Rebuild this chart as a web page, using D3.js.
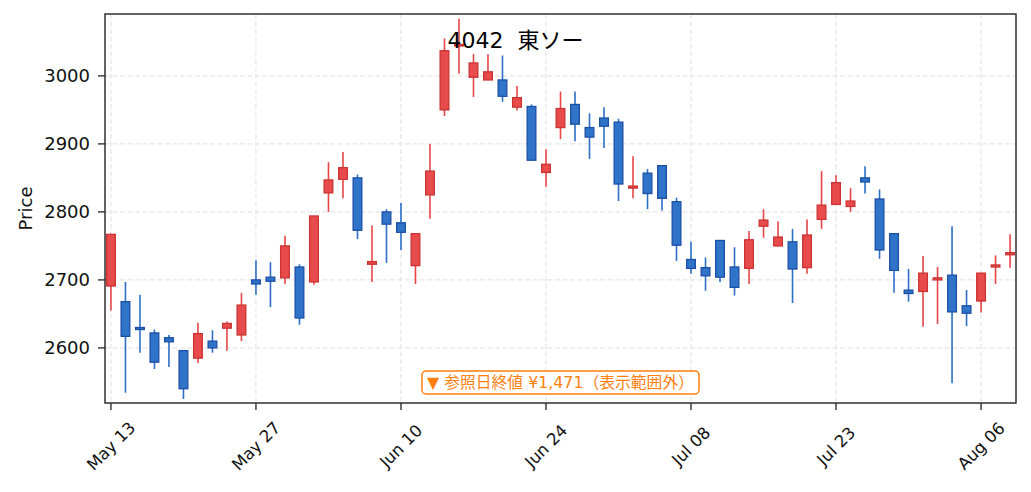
<!DOCTYPE html>
<html>
<head>
<meta charset="utf-8">
<script src="https://cdn.jsdelivr.net/npm/d3@7"></script>
<style>
  html, body { margin: 0; padding: 0; background: #fff; }
  svg { display: block; }
  text { font-family: "DejaVu Sans", "Noto Sans CJK JP", sans-serif; }
</style>
</head>
<body>
<svg id="chart" width="1031" height="492"></svg>
<script>
// ---- data ----
const title = "4042  東ソー";
const dates = ["05-13","05-14","05-15","05-16","05-17","05-20","05-21","05-22","05-23","05-24",
  "05-27","05-28","05-29","05-30","05-31","06-03","06-04","06-05","06-06","06-07",
  "06-10","06-11","06-12","06-13","06-14","06-17","06-18","06-19","06-20","06-21",
  "06-24","06-25","06-26","06-27","06-28","07-01","07-02","07-03","07-04","07-05",
  "07-08","07-09","07-10","07-11","07-12","07-16","07-17","07-18","07-19","07-22",
  "07-23","07-24","07-25","07-26","07-29","07-30","07-31","08-01","08-02","08-05",
  "08-06","08-07","08-08"];
const open  = [2691,2668,2630,2622,2615,2596,2585,2610,2629,2619,
  2700,2704,2703,2719,2697,2828,2848,2850,2723,2800,
  2784,2721,2825,2950,3044,2998,2994,2994,2954,2955,
  2858,2924,2958,2924,2938,2932,2835,2857,2868,2815,
  2730,2718,2758,2719,2717,2779,2750,2756,2718,2789,
  2811,2808,2850,2819,2768,2685,2683,2700,2707,2662,
  2669,2719,2737];
const high  = [2768,2697,2678,2627,2619,2596,2637,2626,2639,2681,
  2729,2726,2765,2723,2794,2873,2888,2855,2780,2804,
  2813,2768,2900,3055,3084,3032,3032,3030,2985,2958,
  2892,2977,2977,2945,2954,2937,2882,2863,2868,2821,
  2756,2733,2758,2748,2772,2804,2786,2775,2789,2860,
  2854,2835,2867,2833,2768,2716,2735,2719,2779,2685,
  2710,2736,2767];
const low   = [2655,2534,2593,2569,2572,2525,2578,2593,2596,2610,
  2678,2660,2694,2634,2693,2800,2820,2760,2697,2725,
  2744,2694,2790,2941,3003,2969,2994,2962,2949,2876,
  2837,2907,2904,2878,2894,2816,2820,2804,2802,2728,
  2709,2684,2697,2677,2694,2762,2749,2666,2709,2775,
  2811,2800,2827,2731,2681,2668,2631,2635,2548,2632,
  2652,2694,2718];
const close = [2767,2617,2627,2579,2609,2540,2621,2600,2636,2663,
  2694,2698,2750,2644,2794,2847,2865,2773,2727,2782,
  2770,2768,2860,3037,3046,3019,3006,2970,2968,2876,
  2870,2952,2929,2910,2926,2841,2838,2827,2820,2751,
  2717,2706,2704,2689,2759,2788,2763,2716,2766,2810,
  2843,2816,2844,2744,2714,2680,2710,2703,2653,2651,
  2710,2722,2740];
const xTickIdx    = [0, 10, 20, 30, 40, 50, 60];
const xTickLabels = ["May 13","May 27","Jun 10","Jun 24","Jul 08","Jul 23","Aug 06"];
const yTicks      = [2600, 2700, 2800, 2900, 3000];
const yLabel = "Price";
const noteText = "▼ 参照日終値 ¥1,471（表示範囲外）";

// ---- layout ----
const L = 105, R = 1016, T = 14, B = 403;
const svg = d3.select("#chart");
const x = d3.scaleLinear().domain([-0.41, 62.41]).range([L, R]);
const y = d3.scaleLinear().domain([2519, 3091]).range([B, T]);
const bw = x(0.3) - x(0);

const upFill = "#e84b4b", upStroke = "#cc3333", upWick = "#e84646";
const dnFill = "#2f74c9", dnStroke = "#1b4fa6", dnWick = "#2b6fc6";

svg.append("defs").append("clipPath").attr("id", "clip")
  .append("rect").attr("x", L).attr("y", T).attr("width", R - L).attr("height", B - T);

// grid
const grid = svg.append("g");
grid.selectAll("line.gy").data(yTicks).join("line")
  .attr("x1", L).attr("x2", R).attr("y1", d => y(d)).attr("y2", d => y(d))
  .attr("stroke", "#e6e6e6").attr("stroke-width", 1.2).attr("stroke-dasharray", "5,2.5");
grid.selectAll("line.gx").data(xTickIdx).join("line")
  .attr("y1", T).attr("y2", B).attr("x1", d => x(d)).attr("x2", d => x(d))
  .attr("stroke", "#e6e6e6").attr("stroke-width", 1.2).attr("stroke-dasharray", "5,2.5");

// candles
const data = dates.map((d, i) => ({ i, o: open[i], h: high[i], l: low[i], c: close[i] }));
const cg = svg.append("g").attr("clip-path", "url(#clip)");
cg.selectAll("line.wick").data(data).join("line")
  .attr("x1", d => x(d.i)).attr("x2", d => x(d.i))
  .attr("y1", d => y(d.h)).attr("y2", d => y(d.l))
  .attr("stroke", d => d.c >= d.o ? upWick : dnWick).attr("stroke-width", 1.6);
cg.selectAll("rect.body").data(data).join("rect")
  .attr("x", d => x(d.i) - bw)
  .attr("width", 2 * bw)
  .attr("y", d => y(Math.max(d.o, d.c)))
  .attr("height", d => Math.max(1, Math.abs(y(d.o) - y(d.c))))
  .attr("fill", d => d.c >= d.o ? upFill : dnFill)
  .attr("stroke", d => d.c >= d.o ? upStroke : dnStroke)
  .attr("stroke-width", 1.3);

// frame
svg.append("rect").attr("x", L).attr("y", T).attr("width", R - L).attr("height", B - T)
  .attr("fill", "none").attr("stroke", "#222").attr("stroke-width", 1.4);

// y axis ticks
const yg = svg.append("g");
yg.selectAll("line").data(yTicks).join("line")
  .attr("x1", L - 7).attr("x2", L).attr("y1", d => y(d)).attr("y2", d => y(d))
  .attr("stroke", "#222").attr("stroke-width", 1.3);
yg.selectAll("text").data(yTicks).join("text")
  .attr("x", L - 15).attr("y", d => y(d)).attr("dy", "0.35em")
  .attr("text-anchor", "end").attr("font-size", 18).attr("fill", "#111")
  .text(d => d);

// x axis ticks
const xg = svg.append("g");
xg.selectAll("line").data(xTickIdx).join("line")
  .attr("x1", d => x(d)).attr("x2", d => x(d)).attr("y1", B).attr("y2", B + 7)
  .attr("stroke", "#222").attr("stroke-width", 1.3);
xg.selectAll("text").data(xTickIdx).join("text")
  .attr("transform", d => `translate(${x(d)},446) rotate(-45)`)
  .attr("text-anchor", "middle").attr("dy", "0.35em")
  .attr("font-size", 16.5).attr("fill", "#111")
  .text((d, k) => xTickLabels[k]);

// y label
svg.append("text").attr("transform", `translate(32,${(T + B) / 2}) rotate(-90)`)
  .attr("text-anchor", "middle").attr("font-size", 18).attr("fill", "#111").text(yLabel);

// title
svg.append("text").attr("x", 515.5).attr("y", 48).attr("text-anchor", "middle")
  .attr("font-size", 22).attr("fill", "#000").style("white-space", "pre").text(title);

// note box
const ng = svg.append("g");
const nt = ng.append("text").attr("x", (L + R) / 2).attr("y", 382.5).attr("dy", "0.36em")
  .attr("text-anchor", "middle").attr("font-size", 15.8).attr("fill", "#ff7f0e").text(noteText);
const bb = nt.node().getBBox();
ng.insert("rect", "text")
  .attr("x", bb.x - 5).attr("y", 371).attr("width", bb.width + 10).attr("height", 23)
  .attr("rx", 4).attr("fill", "#fff").attr("stroke", "#ff7f0e").attr("stroke-width", 1.5);
</script>
</body>
</html>
